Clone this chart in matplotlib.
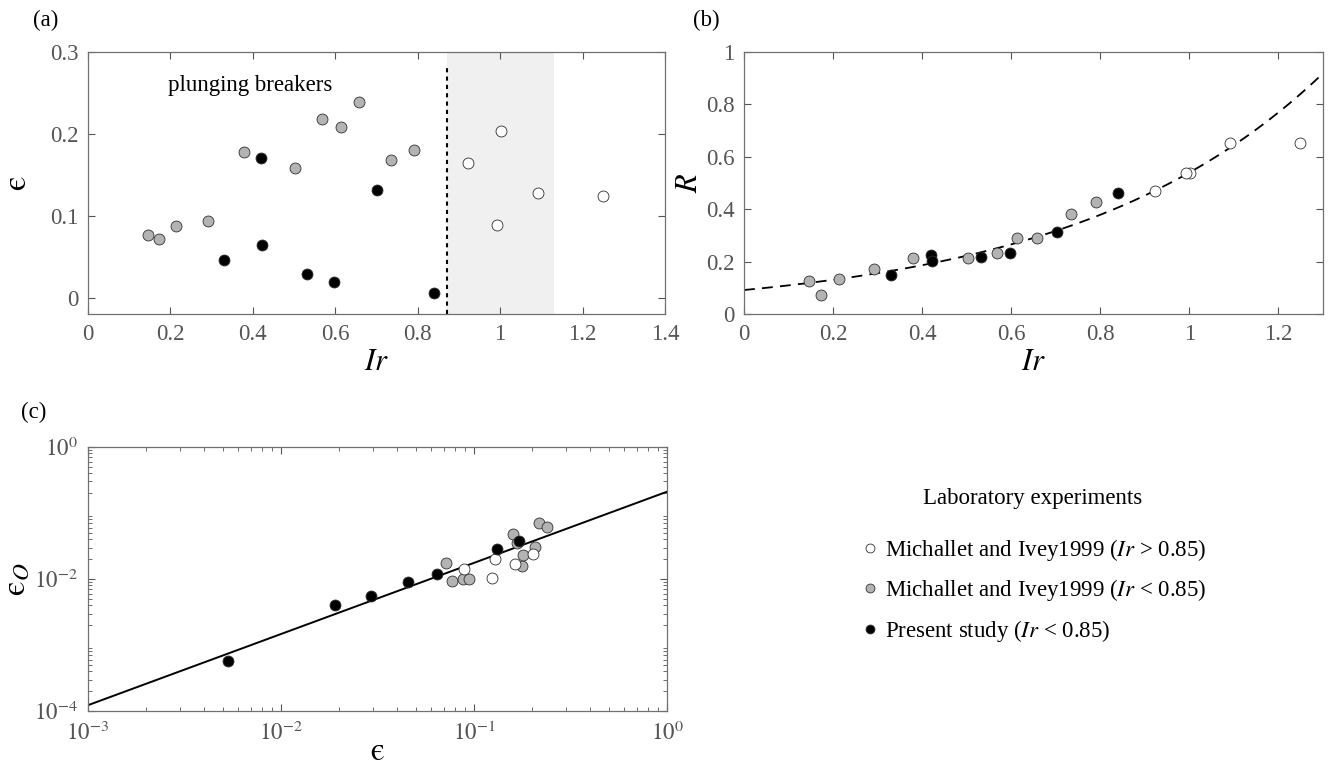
"""Breaking-wave dissipation and reflection versus Iribarren number."""
import numpy as np
import matplotlib

matplotlib.use("Agg")
from matplotlib import pyplot as plt
from matplotlib.lines import Line2D

plt.rcParams["font.family"] = ["Liberation Serif", "DejaVu Serif"]
plt.rcParams["mathtext.fontset"] = "stix"

# Michallet and Ivey 1999, Ir > 0.85 (open symbols)
ir_open = [0.923, 1.002, 0.992, 1.091, 1.249]
eps_open = [0.164, 0.203, 0.089, 0.128, 0.124]
r_open = [0.470, 0.539, 0.539, 0.654, 0.654]
eps_o_open = [0.0171, 0.0237, 0.0140, 0.0201, 0.0105]

# Michallet and Ivey 1999, Ir < 0.85 (grey symbols)
ir_grey = [0.146, 0.173, 0.213, 0.291, 0.379, 0.503, 0.569, 0.614, 0.658, 0.735, 0.791]
eps_grey = [0.077, 0.072, 0.088, 0.094, 0.178, 0.159, 0.218, 0.208, 0.239, 0.168, 0.180]
r_grey = [0.127, 0.073, 0.135, 0.171, 0.215, 0.215, 0.233, 0.290, 0.290, 0.381, 0.429]
eps_o_grey = [0.0093, 0.0173, 0.0099, 0.0100, 0.0160, 0.0483, 0.0702, 0.0303, 0.0603, 0.0350, 0.0232]

# Present study (black symbols)
ir_black = [0.420, 0.330, 0.422, 0.531, 0.598, 0.702, 0.839]
eps_black = [0.171, 0.0455, 0.0646, 0.0293, 0.019, 0.132, 0.0053]
r_black = [0.225, 0.149, 0.203, 0.219, 0.234, 0.315, 0.461]
eps_o_black = [0.0373, 0.0090, 0.0119, 0.00552, 0.00403, 0.0286, 0.00057]

# fitted curves
r_fit_a, r_fit_b = 0.092, 1.77      # R = a * exp(b * Ir)
eo_fit_c, eo_fit_p = 0.21, 1.078    # eps_O = c * eps^p

# plunging / collapsing limits
ir_limit = 0.87
shade_span = (0.87, 1.13)

GREY = "#b3b3b3"
EDGE = "#303030"
TICK = "#555555"
EPS = "$\\mathrm{\u03f5}$"
EPS_O = "$\\mathrm{\u03f5}_O$"


def style_axes(ax):
    ax.tick_params(direction="in", top=True, right=True, labelsize=16.5,
                   colors=TICK, labelcolor=TICK, length=5, width=0.8, pad=7)
    ax.tick_params(which="minor", direction="in", top=True, right=True,
                   colors=TICK, length=3, width=0.6)
    for spine in ax.spines.values():
        spine.set_color("#707070")
        spine.set_linewidth(0.9)


def draw_points(ax, xs, ys, face):
    ax.scatter(xs, ys, s=62, facecolor=face, edgecolor=EDGE,
               linewidth=0.6, zorder=3)


fig = plt.figure(figsize=(13.31, 7.70), dpi=100)
ax_a = fig.add_axes([0.0661, 0.592, 0.4335, 0.3405])
ax_b = fig.add_axes([0.559, 0.592, 0.435, 0.3405])
ax_c = fig.add_axes([0.0661, 0.0766, 0.4350, 0.3429])

# (a)
ax_a.axvspan(*shade_span, color="#f0f0f0", lw=0, zorder=0)
ax_a.plot([ir_limit, ir_limit], [-0.02, 0.285], ls=(0, (2, 2)), color="black",
          lw=1.5, zorder=2)
draw_points(ax_a, ir_grey, eps_grey, GREY)
draw_points(ax_a, ir_black, eps_black, "black")
draw_points(ax_a, ir_open, eps_open, "white")
ax_a.text(0.195, 0.259, "plunging breakers", fontsize=16.5, va="center")
ax_a.set_xlim(0, 1.4)
ax_a.set_ylim(-0.02, 0.3)
ax_a.set_xticks(np.arange(0, 1.41, 0.2))
ax_a.set_xticklabels(["0", "0.2", "0.4", "0.6", "0.8", "1", "1.2", "1.4"])
ax_a.set_yticks([0, 0.1, 0.2, 0.3])
ax_a.set_yticklabels(["0", "0.1", "0.2", "0.3"])
ax_a.set_xlabel(r"$Ir$", fontsize=22, labelpad=2)
ax_a.set_ylabel(EPS, fontsize=24, labelpad=12)
style_axes(ax_a)

# (b)
ir_curve = np.linspace(0, 1.3, 200)
ax_b.plot(ir_curve, r_fit_a * np.exp(r_fit_b * ir_curve), color="black",
          lw=1.3, ls=(0, (6, 4)), zorder=2)
draw_points(ax_b, ir_grey, r_grey, GREY)
draw_points(ax_b, ir_black, r_black, "black")
draw_points(ax_b, ir_open, r_open, "white")
ax_b.set_xlim(0, 1.3)
ax_b.set_ylim(0, 1)
ax_b.set_xticks(np.arange(0, 1.21, 0.2))
ax_b.set_xticklabels(["0", "0.2", "0.4", "0.6", "0.8", "1", "1.2"])
ax_b.set_yticks(np.arange(0, 1.01, 0.2))
ax_b.set_yticklabels(["0", "0.2", "0.4", "0.6", "0.8", "1"])
ax_b.set_xlabel(r"$Ir$", fontsize=22, labelpad=2)
ax_b.set_ylabel(r"$R$", fontsize=22, labelpad=1)
style_axes(ax_b)

# (c)
eps_curve = np.logspace(-3, 0, 50)
ax_c.plot(eps_curve, eo_fit_c * eps_curve ** eo_fit_p, color="black", lw=1.4,
          zorder=2)
draw_points(ax_c, eps_grey, eps_o_grey, GREY)
draw_points(ax_c, eps_open, eps_o_open, "white")
draw_points(ax_c, eps_black, eps_o_black, "black")
ax_c.set_xscale("log")
ax_c.set_yscale("log")
ax_c.set_xlim(1e-3, 1)
ax_c.set_ylim(1e-4, 1)
ax_c.set_xticks([1e-3, 1e-2, 1e-1, 1])
ax_c.set_xticklabels([r"$10^{-3}$", r"$10^{-2}$", r"$10^{-1}$", r"$10^{0}$"])
ax_c.set_yticks([1e-4, 1e-2, 1])
ax_c.set_yticklabels([r"$10^{-4}$", r"$10^{-2}$", r"$10^{0}$"])
ax_c.set_xlabel(EPS, fontsize=23, labelpad=-5)
ax_c.set_ylabel(EPS_O, fontsize=24, labelpad=2)
style_axes(ax_c)
ax_c.tick_params(axis="x", pad=8)

fig.text(0.025, 0.973, "(a)", fontsize=16.5, va="center")
fig.text(0.521, 0.973, "(b)", fontsize=16.5, va="center")
fig.text(0.016, 0.464, "(c)", fontsize=16.5, va="center")

handles = [
    Line2D([], [], ls="none", marker="o", ms=8, mfc="white", mec=EDGE, mew=0.6),
    Line2D([], [], ls="none", marker="o", ms=8, mfc=GREY, mec=EDGE, mew=0.6),
    Line2D([], [], ls="none", marker="o", ms=8, mfc="black", mec=EDGE, mew=0.6),
]
labels = [
    r"Michallet and Ivey1999 ($Ir$ > 0.85)",
    r"Michallet and Ivey1999 ($Ir$ < 0.85)",
    r"Present study ($Ir$ < 0.85)",
]
leg = fig.legend(handles, labels, title="Laboratory experiments",
                 loc="center", bbox_to_anchor=(0.776, 0.265), frameon=False,
                 fontsize=16.5, title_fontsize=16.5, handletextpad=0.15,
                 labelspacing=0.62, handlelength=1.0, markerscale=0.8)
leg._legend_box.sep = 20

fig.savefig("out.png", dpi=100)
plt.close(fig)
